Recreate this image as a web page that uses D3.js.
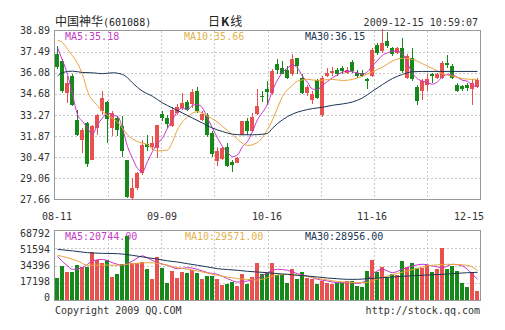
<!DOCTYPE html>
<html lang="zh-CN">
<head>
<meta charset="UTF-8">
<title>中国神华 日K线</title>
<script src="https://cdn.jsdelivr.net/npm/d3@7"></script>
<style>
    body { margin: 0; background: #fff; }
    svg text { font-family: "DejaVu Sans Mono", "Liberation Mono", monospace; font-size: 10px; fill: #333; }
</style>
</head>
<body>
<svg id="main" width="505" height="330"></svg>
<script>
// trading days, 2009-08-11 .. 2009-12-15
let dates = [
    '08-11','08-12','08-13','08-14','08-17','08-18','08-19','08-20','08-21','08-24','08-25','08-26','08-27','08-28','08-31',
    '09-01','09-02','09-03','09-04','09-07','09-08','09-09','09-10','09-11','09-14','09-15','09-16','09-17','09-18',
    '09-21','09-22','09-23','09-24','09-25','09-28','09-29','09-30',
    '10-09','10-12','10-13','10-14','10-15','10-16','10-19','10-20','10-21','10-22','10-23','10-26','10-27','10-28','10-29','10-30',
    '11-02','11-03','11-04','11-05','11-06','11-09','11-10','11-11','11-12','11-13','11-16','11-17','11-18','11-19','11-20',
    '11-23','11-24','11-25','11-26','11-27','11-30',
    '12-01','12-02','12-03','12-04','12-07','12-08','12-09','12-10','12-11','12-14','12-15'];

let opens = [37.31,36.86,34.75,35.86,32.96,31.63,32.74,30.29,32.40,33.52,34.14,32.40,33.07,32.52,30.29,
    27.73,28.40,29.40,31.34,31.18,31.07,33.34,33.07,32.52,33.41,33.74,34.14,34.01,34.90,32.96,33.25,32.07,
    30.22,30.36,31.18,30.13,30.11,31.96,32.85,32.18,33.34,34.52,34.97,34.75,36.68,36.37,36.24,35.97,37.04,
    35.75,34.75,34.30,35.57,33.30,35.86,36.08,36.24,36.37,36.08,36.82,36.08,36.08,35.64,35.86,37.93,37.53,
    38.20,37.71,37.42,37.75,35.75,37.08,35.12,34.86,35.30,35.97,35.75,35.75,36.75,36.53,35.26,35.19,35.26,
    34.97,35.12];
let highs = [37.86,36.97,35.86,35.97,33.63,32.40,32.81,32.63,33.34,34.86,34.19,33.52,33.19,33.19,30.29,
    29.06,29.51,31.63,31.96,31.85,32.63,33.56,33.25,33.79,34.01,34.75,34.30,34.97,35.12,33.52,33.41,32.18,
    31.18,31.18,31.40,30.29,30.51,32.90,33.07,33.41,34.97,34.86,35.52,36.30,36.97,36.86,36.53,37.35,37.08,
    36.02,35.30,34.86,35.64,35.86,36.42,36.46,36.42,36.53,36.46,36.91,36.24,36.24,35.75,37.71,38.09,38.98,
    38.76,37.80,37.80,38.42,37.31,37.75,35.30,35.64,35.97,36.08,36.08,36.86,37.26,36.64,35.41,35.30,35.41,
    35.64,35.75];
let lows = [36.30,34.75,34.08,33.85,31.85,30.73,29.84,30.29,31.92,33.30,31.40,31.85,31.85,30.51,27.73,
    27.62,28.28,29.29,30.85,30.96,30.40,32.85,32.40,32.45,33.25,33.63,33.52,33.74,33.41,32.85,31.78,30.51,
    29.91,30.29,29.84,29.51,30.07,31.92,31.96,32.14,33.25,34.14,33.97,34.63,35.97,35.97,35.64,35.86,35.97,
    34.68,34.52,34.01,34.37,33.12,35.79,35.86,35.86,35.97,36.02,36.08,35.75,35.79,34.97,35.79,37.26,37.42,
    37.75,37.20,37.31,36.08,35.64,35.52,33.92,34.30,34.86,35.41,35.64,35.70,36.42,35.64,34.81,34.86,34.86,
    33.92,35.08];
let closes = [36.46,34.86,35.41,33.92,31.96,32.29,30.00,32.52,33.25,34.41,33.03,33.41,32.29,30.85,27.84,
    28.40,29.40,31.29,31.18,31.40,32.58,33.07,32.67,33.63,33.81,34.08,33.63,34.79,33.52,33.34,31.96,30.67,
    30.85,31.07,29.91,29.96,30.40,32.85,32.18,33.12,33.85,34.46,34.81,36.19,36.24,36.02,35.75,36.97,36.53,
    34.75,35.12,34.68,34.41,35.75,36.08,36.19,35.97,36.19,36.24,36.19,35.86,35.86,35.52,37.57,37.42,38.09,
    37.86,37.31,37.71,36.19,37.20,35.64,34.23,35.52,35.64,35.86,36.02,36.75,36.60,35.75,34.86,34.97,35.04,
    35.41,35.57];
let volumes = [22300,33900,28200,28200,34900,33200,33200,48200,39900,36600,39900,23300,25900,35600,63800,
    36600,36600,38200,30900,20900,43200,32200,17300,28900,22300,28200,26600,29900,26600,20900,24200,24200,
    20900,15000,16000,18200,14000,25900,16000,23300,37200,25900,27200,37200,24900,24900,16600,30900,20900,
    28200,21600,20600,16000,18900,16600,15600,16600,17300,18900,18900,14300,13300,28900,39900,28200,33200,
    23300,25900,24900,38900,33200,37200,31600,31600,34900,28200,30600,52100,30900,33900,28900,17300,13300,
    28200,9300];

// moving averages as drawn: ma5 per day, the others as [day index, value]
let ma5 = [37.75,36.90,35.97,34.63,33.30,32.85,32.40,32.00,32.63,33.07,
    33.41,33.25,33.19,32.40,31.18,30.40,29.73,29.51,30.18,30.85,
    31.40,31.74,32.40,32.96,33.52,33.74,33.63,33.92,33.97,33.74,
    33.07,32.40,31.74,31.18,30.80,30.51,30.62,31.18,31.51,32.18,
    32.96,33.45,34.00,34.90,35.60,36.10,36.40,36.60,36.40,35.85,
    35.45,35.00,34.97,35.25,35.50,35.75,35.95,36.12,36.19,36.14,
    36.08,35.98,36.15,36.55,36.90,37.25,37.40,37.52,37.50,37.35,
    36.70,36.05,35.68,35.53,35.42,35.32,35.48,35.82,35.96,35.94,
    35.78,35.58,35.52,35.22,35.18];
let ma10 = [[0,38.24],[1,38.09],[2,37.64],[4,36.70],[5,35.97],[6,34.86],[8,33.90],[9,33.52],[10,33.25],
    [12,32.80],[13,32.40],[14,31.96],[16,31.51],[18,31.30],[19,31.02],[20,30.89],[22,30.95],[23,31.50],
    [24,32.30],[26,33.15],[28,33.50],[30,33.20],[32,32.80],[33,32.52],[35,31.96],[37,31.40],[38,31.25],
    [40,31.45],[41,31.80],[43,32.95],[44,33.74],[45,34.50],[47,35.25],[48,35.52],[50,35.64],[52,35.57],
    [55,35.64],[57,35.57],[59,35.64],[61,35.86],[63,36.15],[65,36.46],[67,36.86],[69,37.04],[71,36.97],
    [73,36.68],[75,36.37],[77,36.02],[79,35.86],[81,35.70],[83,35.64],[84,35.66]];
let ma30 = [[0,35.86],[1,36.10],[3,36.19],[5,36.10],[7,36.08],[9,36.02],[11,36.08],[13,35.97],[14,35.75],
    [15,35.41],[17,34.86],[19,34.52],[21,34.08],[23,33.74],[25,33.41],[27,33.07],[29,32.74],[31,32.40],
    [33,32.18],[35,32.00],[37,31.96],[39,31.96],[41,32.00],[42,32.05],[43,32.40],[45,32.96],[47,33.34],
    [49,33.56],[51,33.70],[53,33.79],[55,33.92],[57,34.01],[59,34.14],[61,34.41],[63,34.86],[65,35.30],
    [67,35.70],[69,35.97],[71,36.15],[73,36.17],[84,36.17]];
let volMa5 = [[0,43500],[2,34000],[3,30600],[5,32200],[7,38900],[9,40500],[11,37200],[13,34600],[15,38900],
    [17,44000],[18,42000],[20,37200],[22,34600],[24,31200],[26,32200],[28,30600],[30,27200],[32,25600],
    [34,21300],[36,17900],[38,19000],[40,21500],[42,27200],[44,30600],[46,29600],[48,26200],[50,23900],
    [52,20600],[54,19000],[56,17300],[58,17300],[60,16600],[62,20600],[63,25600],[65,30600],[67,27300],
    [69,30600],[71,33900],[73,35600],[75,34000],[77,32200],[79,35600],[81,33900],[83,25600],[84,20744]];
let volMa10 = [[0,44500],[2,42200],[4,38900],[6,34600],[8,34600],[10,34800],[12,34600],[14,35600],[16,36600],
    [18,37200],[20,36600],[22,34600],[24,32200],[26,30600],[28,29000],[30,26800],[32,24600],[34,22800],
    [36,21300],[38,20500],[40,19900],[42,22300],[44,25000],[46,25600],[48,25000],[50,23500],[52,21500],
    [54,20000],[56,18500],[58,17800],[60,17300],[62,17600],[64,21000],[66,24000],[68,26500],[70,29000],
    [72,31500],[74,34000],[76,35000],[78,35600],[80,35300],[82,34600],[84,29571]];
let volMa30 = [[0,50500],[3,49000],[6,47200],[9,46500],[12,46200],[15,44500],[18,42200],[20,40800],[22,39000],
    [24,37900],[26,36200],[28,34600],[30,33000],[32,31200],[34,30400],[36,29600],[38,28600],[40,27900],
    [42,27200],[44,26300],[46,25600],[48,24600],[50,23900],[52,22900],[54,21900],[56,21200],[58,20600],
    [60,20600],[62,21300],[64,21900],[66,22600],[68,23300],[70,23900],[72,24400],[74,24900],[76,25400],
    [78,25900],[80,26600],[82,27200],[84,27600]];

let priceTicks = [27.66, 29.06, 30.47, 31.87, 33.27, 34.68, 36.08, 37.49, 38.89];
let volTicks = [0, 17198, 34396, 51594, 68792];
let dateTicks = ['08-11', '09-09', '10-16', '11-16', '12-15'];
let priceLegend = ['MA5:35.18', 'MA10:35.66', 'MA30:36.15'];
let volLegend = ['MA5:20744.00', 'MA10:29571.00', 'MA30:28956.00'];

// ---- drawing ----
let svg = d3.select('svg#main');
let upColor = '#e8514e', downColor = '#16891a';
let maColors = ['#cc33cc', '#e8a53c', '#1b3654'];
let legendColors = ['#c43cc4', '#e3b24e', '#1b3654'];
let P = {left: 55, right: 480, top: 31, bottom: 199};
let V = {top: 231, bottom: 300};

let x = d3.scaleBand().domain(dates).range([54.5, 479.5]).paddingInner(0.2).paddingOuter(0.1);
let y = d3.scaleLinear().domain([27.66, 38.89]).range([199.5, 30.5]);
let yv = d3.scaleLinear().domain([0, 68792]).range([300, 231]);
let yvLabel = d3.scaleLinear().domain([0, 68792]).range([297.5, 233]);
let gridX = d3.scaleLinear().domain([0, 8]).range([P.left, P.right]);
let cx = function (i) { return x(dates[i]) + 2; };

// title row
let title = svg.append('text').attr('x', 55).attr('y', 25.5);
title.append('tspan').text('中国神华')
    .style('font-family', '"Noto Sans CJK SC", sans-serif').style('font-size', '12px').style('fill', '#222');
title.append('tspan').text('(601088)').style('fill', '#222');
let kline = svg.append('text').attr('x', 208).attr('y', 25.5)
    .style('font-family', '"Noto Sans CJK SC", sans-serif').style('font-size', '12px').style('fill', '#222');
kline.append('tspan').text('日');
kline.append('tspan').text('K').style('font-weight', 'bold').attr('dx', 1);
kline.append('tspan').text('线').attr('dx', 1);
svg.append('text').attr('x', 478).attr('y', 26).attr('text-anchor', 'end')
    .text('2009-12-15 10:59:07');

// grids and frames
function panel(top, bottom, hTicks, yScale) {
    let g = svg.append('g').attr('shape-rendering', 'crispEdges');
    g.selectAll('line.v').data(d3.range(1, 8)).enter().append('line')
        .attr('x1', function (d) { return Math.round(gridX(d)) + 0.5; })
        .attr('x2', function (d) { return Math.round(gridX(d)) + 0.5; })
        .attr('y1', top).attr('y2', bottom)
        .style('stroke', '#c8c8c8').style('stroke-dasharray', '2,2');
    g.selectAll('line.h').data(hTicks).enter().append('line')
        .attr('x1', P.left).attr('x2', P.right)
        .attr('y1', function (d) { return Math.round(yScale(d)) + 0.5; })
        .attr('y2', function (d) { return Math.round(yScale(d)) + 0.5; })
        .style('stroke', '#c8c8c8').style('stroke-dasharray', '2,2');
    g.append('rect').attr('x', 54.5).attr('y', top - 0.5)
        .attr('width', 426).attr('height', bottom - top + 1)
        .style('fill', 'none').style('stroke', '#999');
}
panel(31, 199, priceTicks.slice(1, -1), y);
panel(231, 300, volTicks.slice(1, -1), yv);

// axis labels
svg.append('g').selectAll('text').data(priceTicks).enter().append('text')
    .attr('x', 50).attr('y', function (d) { return y(d); }).attr('dy', '0.35em')
    .attr('text-anchor', 'end').text(function (d) { return d.toFixed(2); });
svg.append('g').selectAll('text').data(volTicks).enter().append('text')
    .attr('x', 50).attr('y', function (d) { return yvLabel(d); }).attr('dy', '0.35em')
    .attr('text-anchor', 'end').text(function (d) { return d; });
let xAxis = svg.append('g').attr('transform', 'translate(0,' + 212 + ')')
    .call(d3.axisBottom(x).tickValues(dateTicks).tickSize(0).tickPadding(0));
xAxis.select('.domain').remove();
xAxis.selectAll('text').attr('dy', '0.71em').style('font-family', null).style('font-size', null)
    .attr('y', 1).attr('fill', '#333');
xAxis.selectAll('.tick:last-of-type text').attr('text-anchor', 'end').attr('dx', 7);

// legends (drawn under the marks)
let lx = [65, 184, 305];
svg.append('g').selectAll('text').data(priceLegend).enter().append('text')
    .attr('x', function (d, i) { return lx[i]; }).attr('y', 40)
    .style('fill', function (d, i) { return legendColors[i]; }).text(function (d) { return d; });
svg.append('g').selectAll('text').data(volLegend).enter().append('text')
    .attr('x', function (d, i) { return [65, 185, 305][i]; }).attr('y', 240)
    .style('fill', function (d, i) { return legendColors[i]; }).text(function (d) { return d; });

// clip paths
let defs = svg.append('defs');
defs.append('clipPath').attr('id', 'clipP').append('rect')
    .attr('x', P.left).attr('y', P.top).attr('width', P.right - P.left).attr('height', P.bottom - P.top);
defs.append('clipPath').attr('id', 'clipV').append('rect')
    .attr('x', P.left).attr('y', V.top).attr('width', P.right - P.left).attr('height', V.bottom - V.top);

// candles
let isUp = function (i) { return closes[i] >= opens[i]; };
let candles = svg.append('g').attr('shape-rendering', 'crispEdges');
let idx = d3.range(dates.length);
candles.selectAll('rect.wick').data(idx).enter().append('rect')
    .attr('x', function (i) { return cx(i); }).attr('width', 1)
    .attr('y', function (i) { return Math.round(y(highs[i])); })
    .attr('height', function (i) { return Math.max(1, Math.round(y(lows[i])) - Math.round(y(highs[i]))); })
    .style('fill', function (i) { return isUp(i) ? upColor : downColor; });
candles.selectAll('rect.body').data(idx).enter().append('rect')
    .attr('x', function (i) { return x(dates[i]); }).attr('width', x.bandwidth())
    .attr('y', function (i) { return Math.round(y(Math.max(opens[i], closes[i]))); })
    .attr('height', function (i) {
        return Math.max(1, Math.round(y(Math.min(opens[i], closes[i]))) - Math.round(y(Math.max(opens[i], closes[i]))));
    })
    .style('fill', function (i) { return isUp(i) ? upColor : downColor; });

// volume bars
svg.append('g').attr('shape-rendering', 'crispEdges')
    .selectAll('rect').data(idx).enter().append('rect')
    .attr('x', function (i) { return x(dates[i]); }).attr('width', x.bandwidth())
    .attr('y', function (i) { return Math.round(yv(volumes[i])); })
    .attr('height', function (i) { return 300 - Math.round(yv(volumes[i])); })
    .style('fill', function (i) { return isUp(i) ? upColor : downColor; });

// moving average lines
function maLine(scale) {
    return d3.line().x(function (d) { return cx(d[0]) + 0.5; })
        .y(function (d) { return scale(d[1]); }).curve(d3.curveMonotoneX);
}
let gP = svg.append('g').attr('clip-path', 'url(#clipP)');
let gV = svg.append('g').attr('clip-path', 'url(#clipV)');
let ma5Pts = ma5.map(function (v, i) { return [i, v]; });
[ma5Pts, ma10, ma30].forEach(function (pts, k) {
    gP.append('path').attr('d', maLine(y)(pts))
        .style('fill', 'none').style('stroke', maColors[k]).style('stroke-width', 1);
});
[volMa5, volMa10, volMa30].forEach(function (pts, k) {
    gV.append('path').attr('d', maLine(yv)(pts))
        .style('fill', 'none').style('stroke', maColors[k]).style('stroke-width', 1);
});

// footer
svg.append('text').attr('x', 55).attr('y', 314).text('Copyright 2009 QQ.COM');
svg.append('text').attr('x', 480).attr('y', 314).attr('text-anchor', 'end').text('http://stock.qq.com');
</script>
</body>
</html>
